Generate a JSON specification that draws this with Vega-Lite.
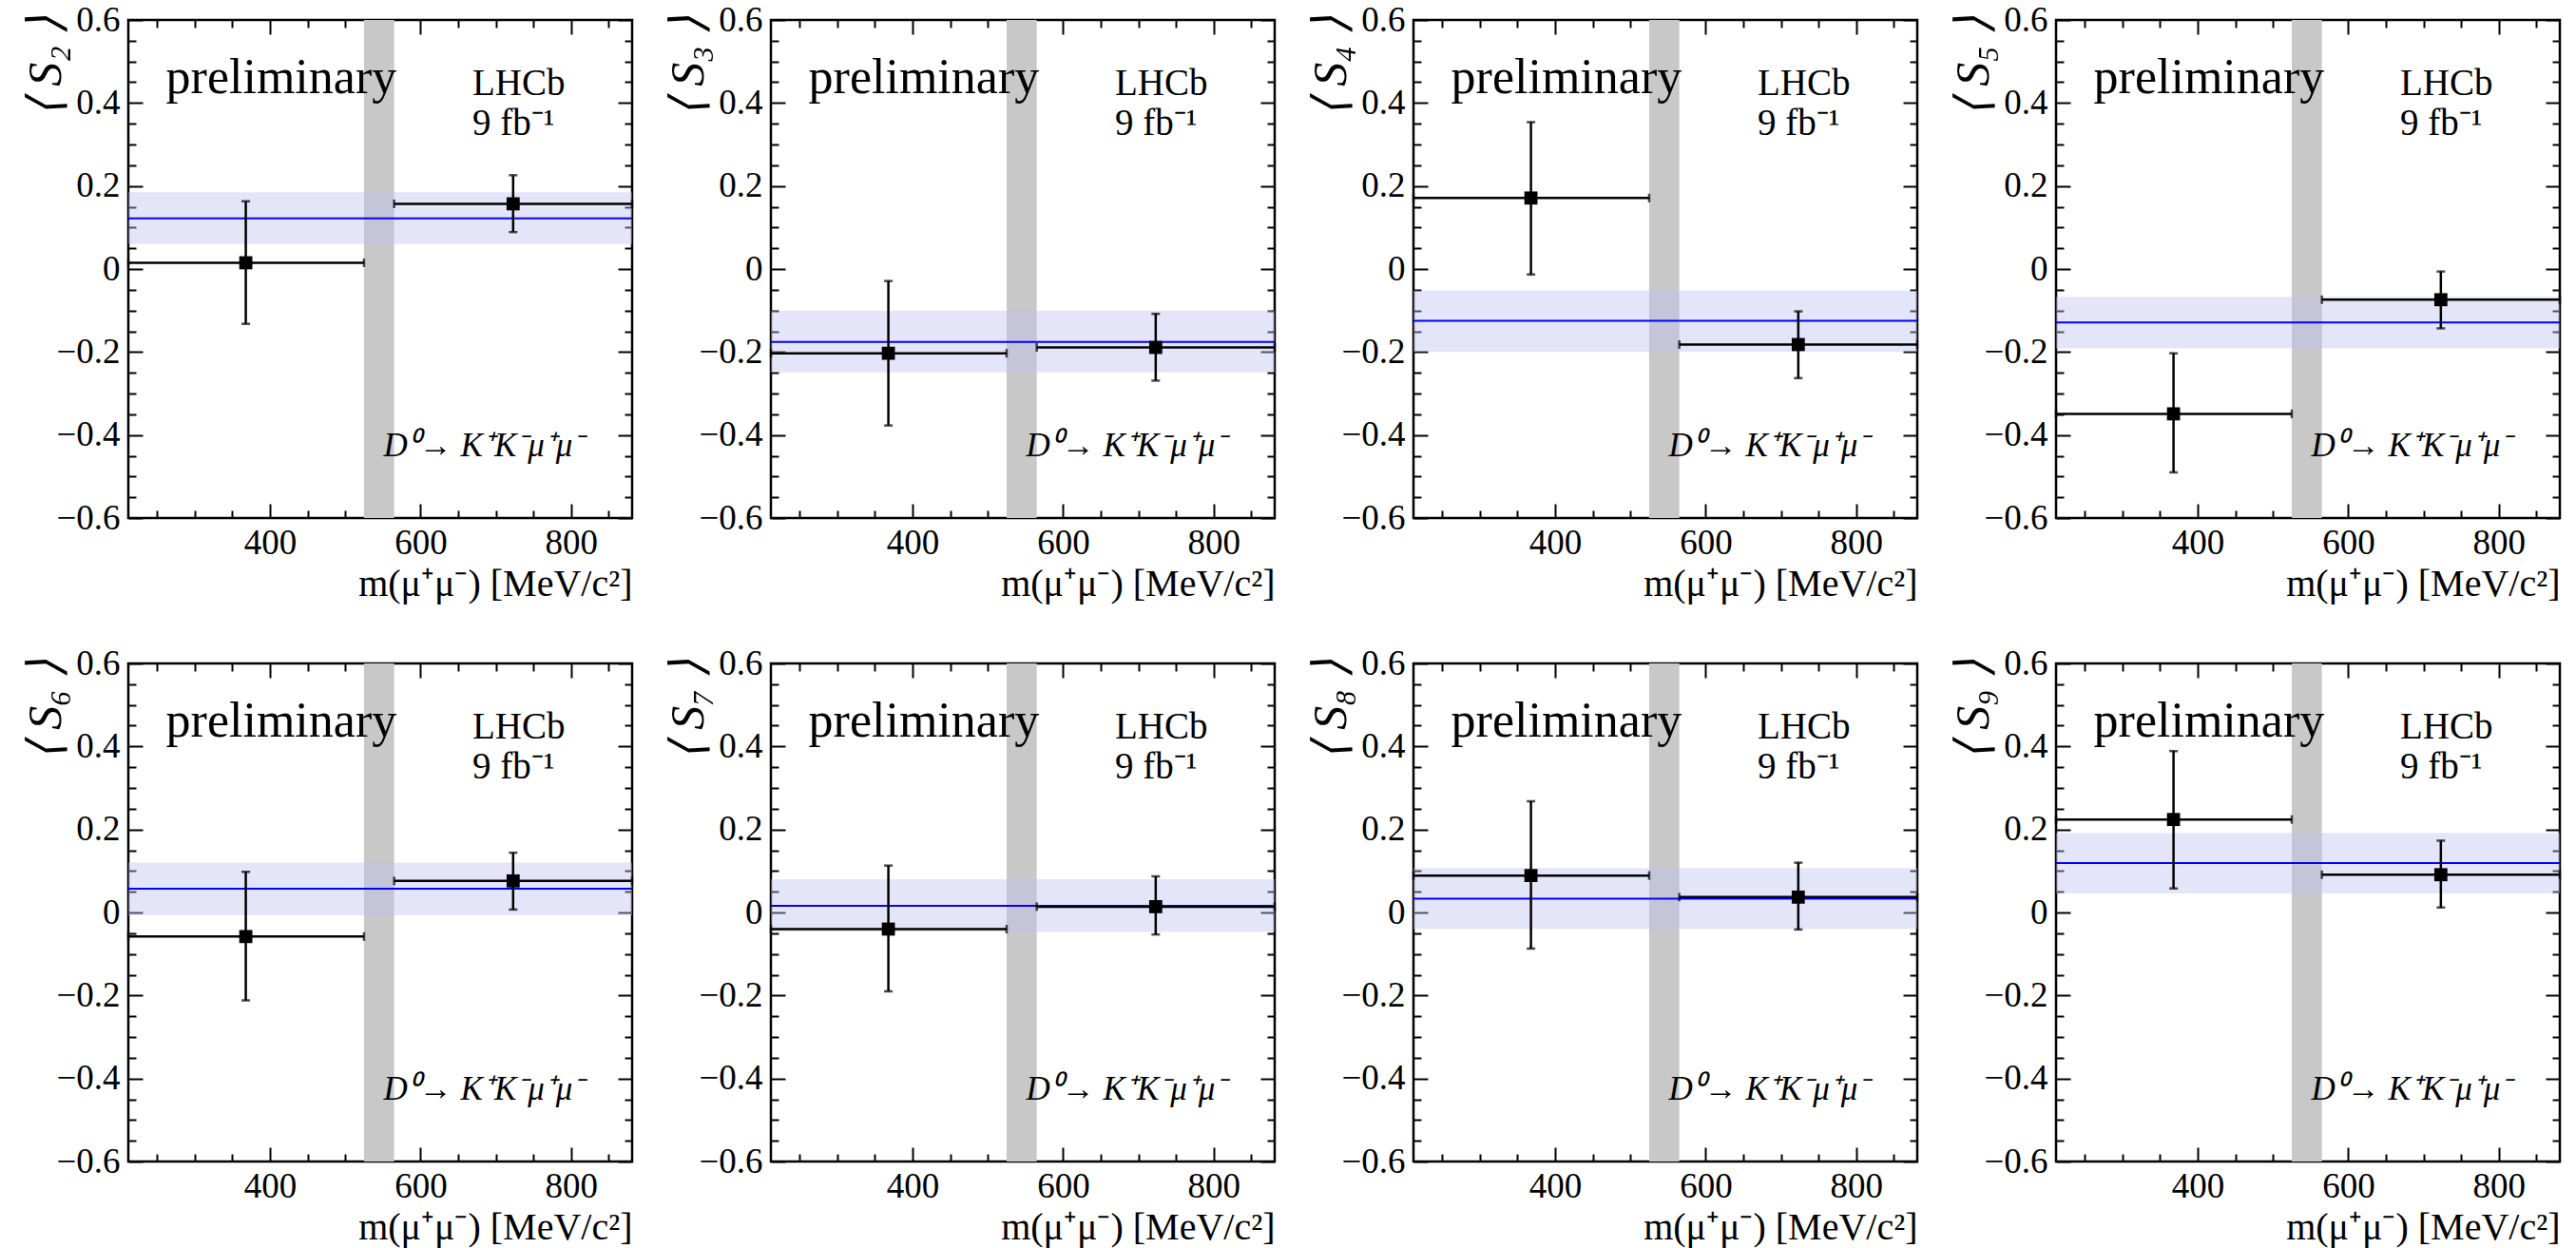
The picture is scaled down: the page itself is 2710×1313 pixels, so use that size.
{
"$schema": "https://vega.github.io/schema/vega-lite/v6.json",
"background": "white",
"padding": {"left": 21, "top": 0, "right": 19, "bottom": 0},
"datasets": {
"pts": [
{"panel":"S2","xc":368,"xlo":212,"xhi":525,"y":0.015,"ylo":-0.132,"yhi":0.163},
{"panel":"S2","xc":723,"xlo":565,"xhi":881,"y":0.157,"ylo":0.089,"yhi":0.226},
{"panel":"S3","xc":368,"xlo":212,"xhi":525,"y":-0.203,"ylo":-0.377,"yhi":-0.029},
{"panel":"S3","xc":723,"xlo":565,"xhi":881,"y":-0.189,"ylo":-0.269,"yhi":-0.108},
{"panel":"S4","xc":368,"xlo":212,"xhi":525,"y":0.171,"ylo":-0.013,"yhi":0.354},
{"panel":"S4","xc":723,"xlo":565,"xhi":881,"y":-0.182,"ylo":-0.263,"yhi":-0.102},
{"panel":"S5","xc":368,"xlo":212,"xhi":525,"y":-0.349,"ylo":-0.490,"yhi":-0.203},
{"panel":"S5","xc":723,"xlo":565,"xhi":881,"y":-0.074,"ylo":-0.143,"yhi":-0.006},
{"panel":"S6","xc":368,"xlo":212,"xhi":525,"y":-0.058,"ylo":-0.212,"yhi":0.098},
{"panel":"S6","xc":723,"xlo":565,"xhi":881,"y":0.076,"ylo":0.007,"yhi":0.144},
{"panel":"S7","xc":368,"xlo":212,"xhi":525,"y":-0.040,"ylo":-0.190,"yhi":0.113},
{"panel":"S7","xc":723,"xlo":565,"xhi":881,"y":0.014,"ylo":-0.053,"yhi":0.087},
{"panel":"S8","xc":368,"xlo":212,"xhi":525,"y":0.089,"ylo":-0.087,"yhi":0.268},
{"panel":"S8","xc":723,"xlo":565,"xhi":881,"y":0.037,"ylo":-0.041,"yhi":0.120},
{"panel":"S9","xc":368,"xlo":212,"xhi":525,"y":0.224,"ylo":0.058,"yhi":0.389},
{"panel":"S9","xc":723,"xlo":565,"xhi":881,"y":0.091,"ylo":0.012,"yhi":0.173}
],
"fits": [
{"panel":"S2","fit":0.122,"lo":0.060,"hi":0.185},
{"panel":"S3","fit":-0.176,"lo":-0.249,"hi":-0.101},
{"panel":"S4","fit":-0.125,"lo":-0.200,"hi":-0.052},
{"panel":"S5","fit":-0.129,"lo":-0.191,"hi":-0.067},
{"panel":"S6","fit":0.057,"lo":-0.007,"hi":0.120},
{"panel":"S7","fit":0.016,"lo":-0.047,"hi":0.080},
{"panel":"S8","fit":0.033,"lo":-0.040,"hi":0.107},
{"panel":"S9","fit":0.119,"lo":0.046,"hi":0.192}
],
"veto": [{"lo":525,"hi":565}],
"notes": [
{"id":"prelim","note":"preliminary"},
{"id":"lumi","note":"LHCb\n9 fb⁻¹"},
{"id":"decay","note":"D⁰→ K⁺K⁻μ⁺μ⁻"}
]
},
"columns": 4,
"spacing": {"row": 153, "column": 146},
"bounds": "flush",
"concat": [
{"width":530,"height":524,"resolve":{"axis":{"x":"independent","y":"independent"}},"layer":[
{"data":{"name":"veto"},"mark":{"type":"rect","color":"#c8c8c8"},"encoding":{"x":{"field":"lo","type":"quantitative","axis":null},"x2":{"field":"hi"}}},
{"data":{"name":"fits"},"transform":[{"filter":"datum.panel=='S2'"}],"mark":{"type":"rect","color":"#c0c0f4","opacity":0.42},"encoding":{"y":{"field":"lo","type":"quantitative","axis":null},"y2":{"field":"hi"}}},
{"data":{"name":"fits"},"transform":[{"filter":"datum.panel=='S2'"}],"mark":{"type":"rule","color":"#0000ff","strokeWidth":2},"encoding":{"y":{"field":"fit","type":"quantitative","axis":null}}},
{"data":{"name":"pts"},"transform":[{"filter":"datum.panel=='S2'"}],"mark":"rule","encoding":{"x":{"field":"xlo","type":"quantitative","scale":{"domain":[212,881],"nice":false,"zero":false},"axis":{"orient":"bottom","values":[400,600,800],"tickSize":-15,"labelPadding":23,"title":"m(μ⁺μ⁻) [MeV/c²]","titleAnchor":"end","titlePadding":5,"titleFontSize":40,"titleFont":"Liberation Serif"}},"x2":{"field":"xhi"},"y":{"field":"y","type":"quantitative","scale":{"domain":[-0.6,0.6],"nice":false,"zero":false},"axis":{"orient":"left","values":[-0.6,-0.4,-0.2,0,0.2,0.4,0.6],"format":"~g","labelExpr":"replace(datum.label,'-','−')","tickSize":-15,"labelPadding":24,"title":"⟨ S₂ ⟩","titleFontSize":50,"titleFontStyle":"italic","titleFont":"Liberation Serif","titleX":-72,"titleY":48,"titleAngle":270,"titleAlign":"center","titleBaseline":"alphabetic"}}}},
{"data":{"name":"pts"},"transform":[{"filter":"datum.panel=='S2'"}],"mark":"rule","encoding":{"x":{"field":"xc","type":"quantitative","axis":{"orient":"top","values":[400,600,800],"tickSize":-15,"labels":false,"title":null}},"y":{"field":"ylo","type":"quantitative","axis":{"orient":"right","values":[-0.6,-0.4,-0.2,0,0.2,0.4,0.6],"tickSize":-15,"labels":false,"title":null}},"y2":{"field":"yhi"}}},
{"data":{"name":"pts"},"transform":[{"filter":"datum.panel=='S2'"},{"fold":["xlo","xhi"],"as":["end","xe"]}],"mark":{"type":"tick","orient":"vertical","size":9},"encoding":{"x":{"field":"xe","type":"quantitative","axis":{"orient":"bottom","values":[250,300,350,450,500,550,650,700,750,850],"tickSize":-8,"labels":false,"title":null}},"y":{"field":"y","type":"quantitative","axis":{"orient":"left","values":[-0.55,-0.5,-0.45,-0.35,-0.3,-0.25,-0.15,-0.1,-0.05,0.05,0.1,0.15,0.25,0.3,0.35,0.45,0.5,0.55],"tickSize":-8,"labels":false,"title":null}}}},
{"data":{"name":"pts"},"transform":[{"filter":"datum.panel=='S2'"},{"fold":["ylo","yhi"],"as":["end","ye"]}],"mark":{"type":"tick","orient":"horizontal","size":9},"encoding":{"x":{"field":"xc","type":"quantitative","axis":{"orient":"top","values":[250,300,350,450,500,550,650,700,750,850],"tickSize":-8,"labels":false,"title":null}},"y":{"field":"ye","type":"quantitative","axis":{"orient":"right","values":[-0.55,-0.5,-0.45,-0.35,-0.3,-0.25,-0.15,-0.1,-0.05,0.05,0.1,0.15,0.25,0.3,0.35,0.45,0.5,0.55],"tickSize":-8,"labels":false,"title":null}}}},
{"data":{"name":"pts"},"transform":[{"filter":"datum.panel=='S2'"}],"mark":{"type":"square","size":190,"opacity":1,"color":"black"},"encoding":{"x":{"field":"xc","type":"quantitative","axis":null},"y":{"field":"y","type":"quantitative","axis":null}}},
{"data":{"name":"notes"},"transform":[{"filter":"datum.id=='prelim'"}],"mark":{"type":"text","fontSize":52,"align":"left"},"encoding":{"x":{"datum":262,"type":"quantitative","axis":null},"y":{"datum":0.424,"type":"quantitative","axis":null},"text":{"field":"note"}}},
{"data":{"name":"notes"},"transform":[{"filter":"datum.id=='lumi'"}],"mark":{"type":"text","fontSize":39,"align":"left","lineBreak":"\n","lineHeight":42},"encoding":{"x":{"datum":669,"type":"quantitative","axis":null},"y":{"datum":0.42,"type":"quantitative","axis":null},"text":{"field":"note"}}},
{"data":{"name":"notes"},"transform":[{"filter":"datum.id=='decay'"}],"mark":{"type":"text","fontSize":35,"fontStyle":"italic","align":"left"},"encoding":{"x":{"datum":551,"type":"quantitative","axis":null},"y":{"datum":-0.452,"type":"quantitative","axis":null},"text":{"field":"note"}}}
]},
{"width":530,"height":524,"resolve":{"axis":{"x":"independent","y":"independent"}},"layer":[
{"data":{"name":"veto"},"mark":{"type":"rect","color":"#c8c8c8"},"encoding":{"x":{"field":"lo","type":"quantitative","axis":null},"x2":{"field":"hi"}}},
{"data":{"name":"fits"},"transform":[{"filter":"datum.panel=='S3'"}],"mark":{"type":"rect","color":"#c0c0f4","opacity":0.42},"encoding":{"y":{"field":"lo","type":"quantitative","axis":null},"y2":{"field":"hi"}}},
{"data":{"name":"fits"},"transform":[{"filter":"datum.panel=='S3'"}],"mark":{"type":"rule","color":"#0000ff","strokeWidth":2},"encoding":{"y":{"field":"fit","type":"quantitative","axis":null}}},
{"data":{"name":"pts"},"transform":[{"filter":"datum.panel=='S3'"}],"mark":"rule","encoding":{"x":{"field":"xlo","type":"quantitative","scale":{"domain":[212,881],"nice":false,"zero":false},"axis":{"orient":"bottom","values":[400,600,800],"tickSize":-15,"labelPadding":23,"title":"m(μ⁺μ⁻) [MeV/c²]","titleAnchor":"end","titlePadding":5,"titleFontSize":40,"titleFont":"Liberation Serif"}},"x2":{"field":"xhi"},"y":{"field":"y","type":"quantitative","scale":{"domain":[-0.6,0.6],"nice":false,"zero":false},"axis":{"orient":"left","values":[-0.6,-0.4,-0.2,0,0.2,0.4,0.6],"format":"~g","labelExpr":"replace(datum.label,'-','−')","tickSize":-15,"labelPadding":24,"title":"⟨ S₃ ⟩","titleFontSize":50,"titleFontStyle":"italic","titleFont":"Liberation Serif","titleX":-72,"titleY":48,"titleAngle":270,"titleAlign":"center","titleBaseline":"alphabetic"}}}},
{"data":{"name":"pts"},"transform":[{"filter":"datum.panel=='S3'"}],"mark":"rule","encoding":{"x":{"field":"xc","type":"quantitative","axis":{"orient":"top","values":[400,600,800],"tickSize":-15,"labels":false,"title":null}},"y":{"field":"ylo","type":"quantitative","axis":{"orient":"right","values":[-0.6,-0.4,-0.2,0,0.2,0.4,0.6],"tickSize":-15,"labels":false,"title":null}},"y2":{"field":"yhi"}}},
{"data":{"name":"pts"},"transform":[{"filter":"datum.panel=='S3'"},{"fold":["xlo","xhi"],"as":["end","xe"]}],"mark":{"type":"tick","orient":"vertical","size":9},"encoding":{"x":{"field":"xe","type":"quantitative","axis":{"orient":"bottom","values":[250,300,350,450,500,550,650,700,750,850],"tickSize":-8,"labels":false,"title":null}},"y":{"field":"y","type":"quantitative","axis":{"orient":"left","values":[-0.55,-0.5,-0.45,-0.35,-0.3,-0.25,-0.15,-0.1,-0.05,0.05,0.1,0.15,0.25,0.3,0.35,0.45,0.5,0.55],"tickSize":-8,"labels":false,"title":null}}}},
{"data":{"name":"pts"},"transform":[{"filter":"datum.panel=='S3'"},{"fold":["ylo","yhi"],"as":["end","ye"]}],"mark":{"type":"tick","orient":"horizontal","size":9},"encoding":{"x":{"field":"xc","type":"quantitative","axis":{"orient":"top","values":[250,300,350,450,500,550,650,700,750,850],"tickSize":-8,"labels":false,"title":null}},"y":{"field":"ye","type":"quantitative","axis":{"orient":"right","values":[-0.55,-0.5,-0.45,-0.35,-0.3,-0.25,-0.15,-0.1,-0.05,0.05,0.1,0.15,0.25,0.3,0.35,0.45,0.5,0.55],"tickSize":-8,"labels":false,"title":null}}}},
{"data":{"name":"pts"},"transform":[{"filter":"datum.panel=='S3'"}],"mark":{"type":"square","size":190,"opacity":1,"color":"black"},"encoding":{"x":{"field":"xc","type":"quantitative","axis":null},"y":{"field":"y","type":"quantitative","axis":null}}},
{"data":{"name":"notes"},"transform":[{"filter":"datum.id=='prelim'"}],"mark":{"type":"text","fontSize":52,"align":"left"},"encoding":{"x":{"datum":262,"type":"quantitative","axis":null},"y":{"datum":0.424,"type":"quantitative","axis":null},"text":{"field":"note"}}},
{"data":{"name":"notes"},"transform":[{"filter":"datum.id=='lumi'"}],"mark":{"type":"text","fontSize":39,"align":"left","lineBreak":"\n","lineHeight":42},"encoding":{"x":{"datum":669,"type":"quantitative","axis":null},"y":{"datum":0.42,"type":"quantitative","axis":null},"text":{"field":"note"}}},
{"data":{"name":"notes"},"transform":[{"filter":"datum.id=='decay'"}],"mark":{"type":"text","fontSize":35,"fontStyle":"italic","align":"left"},"encoding":{"x":{"datum":551,"type":"quantitative","axis":null},"y":{"datum":-0.452,"type":"quantitative","axis":null},"text":{"field":"note"}}}
]},
{"width":530,"height":524,"resolve":{"axis":{"x":"independent","y":"independent"}},"layer":[
{"data":{"name":"veto"},"mark":{"type":"rect","color":"#c8c8c8"},"encoding":{"x":{"field":"lo","type":"quantitative","axis":null},"x2":{"field":"hi"}}},
{"data":{"name":"fits"},"transform":[{"filter":"datum.panel=='S4'"}],"mark":{"type":"rect","color":"#c0c0f4","opacity":0.42},"encoding":{"y":{"field":"lo","type":"quantitative","axis":null},"y2":{"field":"hi"}}},
{"data":{"name":"fits"},"transform":[{"filter":"datum.panel=='S4'"}],"mark":{"type":"rule","color":"#0000ff","strokeWidth":2},"encoding":{"y":{"field":"fit","type":"quantitative","axis":null}}},
{"data":{"name":"pts"},"transform":[{"filter":"datum.panel=='S4'"}],"mark":"rule","encoding":{"x":{"field":"xlo","type":"quantitative","scale":{"domain":[212,881],"nice":false,"zero":false},"axis":{"orient":"bottom","values":[400,600,800],"tickSize":-15,"labelPadding":23,"title":"m(μ⁺μ⁻) [MeV/c²]","titleAnchor":"end","titlePadding":5,"titleFontSize":40,"titleFont":"Liberation Serif"}},"x2":{"field":"xhi"},"y":{"field":"y","type":"quantitative","scale":{"domain":[-0.6,0.6],"nice":false,"zero":false},"axis":{"orient":"left","values":[-0.6,-0.4,-0.2,0,0.2,0.4,0.6],"format":"~g","labelExpr":"replace(datum.label,'-','−')","tickSize":-15,"labelPadding":24,"title":"⟨ S₄ ⟩","titleFontSize":50,"titleFontStyle":"italic","titleFont":"Liberation Serif","titleX":-72,"titleY":48,"titleAngle":270,"titleAlign":"center","titleBaseline":"alphabetic"}}}},
{"data":{"name":"pts"},"transform":[{"filter":"datum.panel=='S4'"}],"mark":"rule","encoding":{"x":{"field":"xc","type":"quantitative","axis":{"orient":"top","values":[400,600,800],"tickSize":-15,"labels":false,"title":null}},"y":{"field":"ylo","type":"quantitative","axis":{"orient":"right","values":[-0.6,-0.4,-0.2,0,0.2,0.4,0.6],"tickSize":-15,"labels":false,"title":null}},"y2":{"field":"yhi"}}},
{"data":{"name":"pts"},"transform":[{"filter":"datum.panel=='S4'"},{"fold":["xlo","xhi"],"as":["end","xe"]}],"mark":{"type":"tick","orient":"vertical","size":9},"encoding":{"x":{"field":"xe","type":"quantitative","axis":{"orient":"bottom","values":[250,300,350,450,500,550,650,700,750,850],"tickSize":-8,"labels":false,"title":null}},"y":{"field":"y","type":"quantitative","axis":{"orient":"left","values":[-0.55,-0.5,-0.45,-0.35,-0.3,-0.25,-0.15,-0.1,-0.05,0.05,0.1,0.15,0.25,0.3,0.35,0.45,0.5,0.55],"tickSize":-8,"labels":false,"title":null}}}},
{"data":{"name":"pts"},"transform":[{"filter":"datum.panel=='S4'"},{"fold":["ylo","yhi"],"as":["end","ye"]}],"mark":{"type":"tick","orient":"horizontal","size":9},"encoding":{"x":{"field":"xc","type":"quantitative","axis":{"orient":"top","values":[250,300,350,450,500,550,650,700,750,850],"tickSize":-8,"labels":false,"title":null}},"y":{"field":"ye","type":"quantitative","axis":{"orient":"right","values":[-0.55,-0.5,-0.45,-0.35,-0.3,-0.25,-0.15,-0.1,-0.05,0.05,0.1,0.15,0.25,0.3,0.35,0.45,0.5,0.55],"tickSize":-8,"labels":false,"title":null}}}},
{"data":{"name":"pts"},"transform":[{"filter":"datum.panel=='S4'"}],"mark":{"type":"square","size":190,"opacity":1,"color":"black"},"encoding":{"x":{"field":"xc","type":"quantitative","axis":null},"y":{"field":"y","type":"quantitative","axis":null}}},
{"data":{"name":"notes"},"transform":[{"filter":"datum.id=='prelim'"}],"mark":{"type":"text","fontSize":52,"align":"left"},"encoding":{"x":{"datum":262,"type":"quantitative","axis":null},"y":{"datum":0.424,"type":"quantitative","axis":null},"text":{"field":"note"}}},
{"data":{"name":"notes"},"transform":[{"filter":"datum.id=='lumi'"}],"mark":{"type":"text","fontSize":39,"align":"left","lineBreak":"\n","lineHeight":42},"encoding":{"x":{"datum":669,"type":"quantitative","axis":null},"y":{"datum":0.42,"type":"quantitative","axis":null},"text":{"field":"note"}}},
{"data":{"name":"notes"},"transform":[{"filter":"datum.id=='decay'"}],"mark":{"type":"text","fontSize":35,"fontStyle":"italic","align":"left"},"encoding":{"x":{"datum":551,"type":"quantitative","axis":null},"y":{"datum":-0.452,"type":"quantitative","axis":null},"text":{"field":"note"}}}
]},
{"width":530,"height":524,"resolve":{"axis":{"x":"independent","y":"independent"}},"layer":[
{"data":{"name":"veto"},"mark":{"type":"rect","color":"#c8c8c8"},"encoding":{"x":{"field":"lo","type":"quantitative","axis":null},"x2":{"field":"hi"}}},
{"data":{"name":"fits"},"transform":[{"filter":"datum.panel=='S5'"}],"mark":{"type":"rect","color":"#c0c0f4","opacity":0.42},"encoding":{"y":{"field":"lo","type":"quantitative","axis":null},"y2":{"field":"hi"}}},
{"data":{"name":"fits"},"transform":[{"filter":"datum.panel=='S5'"}],"mark":{"type":"rule","color":"#0000ff","strokeWidth":2},"encoding":{"y":{"field":"fit","type":"quantitative","axis":null}}},
{"data":{"name":"pts"},"transform":[{"filter":"datum.panel=='S5'"}],"mark":"rule","encoding":{"x":{"field":"xlo","type":"quantitative","scale":{"domain":[212,881],"nice":false,"zero":false},"axis":{"orient":"bottom","values":[400,600,800],"tickSize":-15,"labelPadding":23,"title":"m(μ⁺μ⁻) [MeV/c²]","titleAnchor":"end","titlePadding":5,"titleFontSize":40,"titleFont":"Liberation Serif"}},"x2":{"field":"xhi"},"y":{"field":"y","type":"quantitative","scale":{"domain":[-0.6,0.6],"nice":false,"zero":false},"axis":{"orient":"left","values":[-0.6,-0.4,-0.2,0,0.2,0.4,0.6],"format":"~g","labelExpr":"replace(datum.label,'-','−')","tickSize":-15,"labelPadding":24,"title":"⟨ S₅ ⟩","titleFontSize":50,"titleFontStyle":"italic","titleFont":"Liberation Serif","titleX":-72,"titleY":48,"titleAngle":270,"titleAlign":"center","titleBaseline":"alphabetic"}}}},
{"data":{"name":"pts"},"transform":[{"filter":"datum.panel=='S5'"}],"mark":"rule","encoding":{"x":{"field":"xc","type":"quantitative","axis":{"orient":"top","values":[400,600,800],"tickSize":-15,"labels":false,"title":null}},"y":{"field":"ylo","type":"quantitative","axis":{"orient":"right","values":[-0.6,-0.4,-0.2,0,0.2,0.4,0.6],"tickSize":-15,"labels":false,"title":null}},"y2":{"field":"yhi"}}},
{"data":{"name":"pts"},"transform":[{"filter":"datum.panel=='S5'"},{"fold":["xlo","xhi"],"as":["end","xe"]}],"mark":{"type":"tick","orient":"vertical","size":9},"encoding":{"x":{"field":"xe","type":"quantitative","axis":{"orient":"bottom","values":[250,300,350,450,500,550,650,700,750,850],"tickSize":-8,"labels":false,"title":null}},"y":{"field":"y","type":"quantitative","axis":{"orient":"left","values":[-0.55,-0.5,-0.45,-0.35,-0.3,-0.25,-0.15,-0.1,-0.05,0.05,0.1,0.15,0.25,0.3,0.35,0.45,0.5,0.55],"tickSize":-8,"labels":false,"title":null}}}},
{"data":{"name":"pts"},"transform":[{"filter":"datum.panel=='S5'"},{"fold":["ylo","yhi"],"as":["end","ye"]}],"mark":{"type":"tick","orient":"horizontal","size":9},"encoding":{"x":{"field":"xc","type":"quantitative","axis":{"orient":"top","values":[250,300,350,450,500,550,650,700,750,850],"tickSize":-8,"labels":false,"title":null}},"y":{"field":"ye","type":"quantitative","axis":{"orient":"right","values":[-0.55,-0.5,-0.45,-0.35,-0.3,-0.25,-0.15,-0.1,-0.05,0.05,0.1,0.15,0.25,0.3,0.35,0.45,0.5,0.55],"tickSize":-8,"labels":false,"title":null}}}},
{"data":{"name":"pts"},"transform":[{"filter":"datum.panel=='S5'"}],"mark":{"type":"square","size":190,"opacity":1,"color":"black"},"encoding":{"x":{"field":"xc","type":"quantitative","axis":null},"y":{"field":"y","type":"quantitative","axis":null}}},
{"data":{"name":"notes"},"transform":[{"filter":"datum.id=='prelim'"}],"mark":{"type":"text","fontSize":52,"align":"left"},"encoding":{"x":{"datum":262,"type":"quantitative","axis":null},"y":{"datum":0.424,"type":"quantitative","axis":null},"text":{"field":"note"}}},
{"data":{"name":"notes"},"transform":[{"filter":"datum.id=='lumi'"}],"mark":{"type":"text","fontSize":39,"align":"left","lineBreak":"\n","lineHeight":42},"encoding":{"x":{"datum":669,"type":"quantitative","axis":null},"y":{"datum":0.42,"type":"quantitative","axis":null},"text":{"field":"note"}}},
{"data":{"name":"notes"},"transform":[{"filter":"datum.id=='decay'"}],"mark":{"type":"text","fontSize":35,"fontStyle":"italic","align":"left"},"encoding":{"x":{"datum":551,"type":"quantitative","axis":null},"y":{"datum":-0.452,"type":"quantitative","axis":null},"text":{"field":"note"}}}
]},
{"width":530,"height":524,"resolve":{"axis":{"x":"independent","y":"independent"}},"layer":[
{"data":{"name":"veto"},"mark":{"type":"rect","color":"#c8c8c8"},"encoding":{"x":{"field":"lo","type":"quantitative","axis":null},"x2":{"field":"hi"}}},
{"data":{"name":"fits"},"transform":[{"filter":"datum.panel=='S6'"}],"mark":{"type":"rect","color":"#c0c0f4","opacity":0.42},"encoding":{"y":{"field":"lo","type":"quantitative","axis":null},"y2":{"field":"hi"}}},
{"data":{"name":"fits"},"transform":[{"filter":"datum.panel=='S6'"}],"mark":{"type":"rule","color":"#0000ff","strokeWidth":2},"encoding":{"y":{"field":"fit","type":"quantitative","axis":null}}},
{"data":{"name":"pts"},"transform":[{"filter":"datum.panel=='S6'"}],"mark":"rule","encoding":{"x":{"field":"xlo","type":"quantitative","scale":{"domain":[212,881],"nice":false,"zero":false},"axis":{"orient":"bottom","values":[400,600,800],"tickSize":-15,"labelPadding":23,"title":"m(μ⁺μ⁻) [MeV/c²]","titleAnchor":"end","titlePadding":5,"titleFontSize":40,"titleFont":"Liberation Serif"}},"x2":{"field":"xhi"},"y":{"field":"y","type":"quantitative","scale":{"domain":[-0.6,0.6],"nice":false,"zero":false},"axis":{"orient":"left","values":[-0.6,-0.4,-0.2,0,0.2,0.4,0.6],"format":"~g","labelExpr":"replace(datum.label,'-','−')","tickSize":-15,"labelPadding":24,"title":"⟨ S₆ ⟩","titleFontSize":50,"titleFontStyle":"italic","titleFont":"Liberation Serif","titleX":-72,"titleY":48,"titleAngle":270,"titleAlign":"center","titleBaseline":"alphabetic"}}}},
{"data":{"name":"pts"},"transform":[{"filter":"datum.panel=='S6'"}],"mark":"rule","encoding":{"x":{"field":"xc","type":"quantitative","axis":{"orient":"top","values":[400,600,800],"tickSize":-15,"labels":false,"title":null}},"y":{"field":"ylo","type":"quantitative","axis":{"orient":"right","values":[-0.6,-0.4,-0.2,0,0.2,0.4,0.6],"tickSize":-15,"labels":false,"title":null}},"y2":{"field":"yhi"}}},
{"data":{"name":"pts"},"transform":[{"filter":"datum.panel=='S6'"},{"fold":["xlo","xhi"],"as":["end","xe"]}],"mark":{"type":"tick","orient":"vertical","size":9},"encoding":{"x":{"field":"xe","type":"quantitative","axis":{"orient":"bottom","values":[250,300,350,450,500,550,650,700,750,850],"tickSize":-8,"labels":false,"title":null}},"y":{"field":"y","type":"quantitative","axis":{"orient":"left","values":[-0.55,-0.5,-0.45,-0.35,-0.3,-0.25,-0.15,-0.1,-0.05,0.05,0.1,0.15,0.25,0.3,0.35,0.45,0.5,0.55],"tickSize":-8,"labels":false,"title":null}}}},
{"data":{"name":"pts"},"transform":[{"filter":"datum.panel=='S6'"},{"fold":["ylo","yhi"],"as":["end","ye"]}],"mark":{"type":"tick","orient":"horizontal","size":9},"encoding":{"x":{"field":"xc","type":"quantitative","axis":{"orient":"top","values":[250,300,350,450,500,550,650,700,750,850],"tickSize":-8,"labels":false,"title":null}},"y":{"field":"ye","type":"quantitative","axis":{"orient":"right","values":[-0.55,-0.5,-0.45,-0.35,-0.3,-0.25,-0.15,-0.1,-0.05,0.05,0.1,0.15,0.25,0.3,0.35,0.45,0.5,0.55],"tickSize":-8,"labels":false,"title":null}}}},
{"data":{"name":"pts"},"transform":[{"filter":"datum.panel=='S6'"}],"mark":{"type":"square","size":190,"opacity":1,"color":"black"},"encoding":{"x":{"field":"xc","type":"quantitative","axis":null},"y":{"field":"y","type":"quantitative","axis":null}}},
{"data":{"name":"notes"},"transform":[{"filter":"datum.id=='prelim'"}],"mark":{"type":"text","fontSize":52,"align":"left"},"encoding":{"x":{"datum":262,"type":"quantitative","axis":null},"y":{"datum":0.424,"type":"quantitative","axis":null},"text":{"field":"note"}}},
{"data":{"name":"notes"},"transform":[{"filter":"datum.id=='lumi'"}],"mark":{"type":"text","fontSize":39,"align":"left","lineBreak":"\n","lineHeight":42},"encoding":{"x":{"datum":669,"type":"quantitative","axis":null},"y":{"datum":0.42,"type":"quantitative","axis":null},"text":{"field":"note"}}},
{"data":{"name":"notes"},"transform":[{"filter":"datum.id=='decay'"}],"mark":{"type":"text","fontSize":35,"fontStyle":"italic","align":"left"},"encoding":{"x":{"datum":551,"type":"quantitative","axis":null},"y":{"datum":-0.452,"type":"quantitative","axis":null},"text":{"field":"note"}}}
]},
{"width":530,"height":524,"resolve":{"axis":{"x":"independent","y":"independent"}},"layer":[
{"data":{"name":"veto"},"mark":{"type":"rect","color":"#c8c8c8"},"encoding":{"x":{"field":"lo","type":"quantitative","axis":null},"x2":{"field":"hi"}}},
{"data":{"name":"fits"},"transform":[{"filter":"datum.panel=='S7'"}],"mark":{"type":"rect","color":"#c0c0f4","opacity":0.42},"encoding":{"y":{"field":"lo","type":"quantitative","axis":null},"y2":{"field":"hi"}}},
{"data":{"name":"fits"},"transform":[{"filter":"datum.panel=='S7'"}],"mark":{"type":"rule","color":"#0000ff","strokeWidth":2},"encoding":{"y":{"field":"fit","type":"quantitative","axis":null}}},
{"data":{"name":"pts"},"transform":[{"filter":"datum.panel=='S7'"}],"mark":"rule","encoding":{"x":{"field":"xlo","type":"quantitative","scale":{"domain":[212,881],"nice":false,"zero":false},"axis":{"orient":"bottom","values":[400,600,800],"tickSize":-15,"labelPadding":23,"title":"m(μ⁺μ⁻) [MeV/c²]","titleAnchor":"end","titlePadding":5,"titleFontSize":40,"titleFont":"Liberation Serif"}},"x2":{"field":"xhi"},"y":{"field":"y","type":"quantitative","scale":{"domain":[-0.6,0.6],"nice":false,"zero":false},"axis":{"orient":"left","values":[-0.6,-0.4,-0.2,0,0.2,0.4,0.6],"format":"~g","labelExpr":"replace(datum.label,'-','−')","tickSize":-15,"labelPadding":24,"title":"⟨ S₇ ⟩","titleFontSize":50,"titleFontStyle":"italic","titleFont":"Liberation Serif","titleX":-72,"titleY":48,"titleAngle":270,"titleAlign":"center","titleBaseline":"alphabetic"}}}},
{"data":{"name":"pts"},"transform":[{"filter":"datum.panel=='S7'"}],"mark":"rule","encoding":{"x":{"field":"xc","type":"quantitative","axis":{"orient":"top","values":[400,600,800],"tickSize":-15,"labels":false,"title":null}},"y":{"field":"ylo","type":"quantitative","axis":{"orient":"right","values":[-0.6,-0.4,-0.2,0,0.2,0.4,0.6],"tickSize":-15,"labels":false,"title":null}},"y2":{"field":"yhi"}}},
{"data":{"name":"pts"},"transform":[{"filter":"datum.panel=='S7'"},{"fold":["xlo","xhi"],"as":["end","xe"]}],"mark":{"type":"tick","orient":"vertical","size":9},"encoding":{"x":{"field":"xe","type":"quantitative","axis":{"orient":"bottom","values":[250,300,350,450,500,550,650,700,750,850],"tickSize":-8,"labels":false,"title":null}},"y":{"field":"y","type":"quantitative","axis":{"orient":"left","values":[-0.55,-0.5,-0.45,-0.35,-0.3,-0.25,-0.15,-0.1,-0.05,0.05,0.1,0.15,0.25,0.3,0.35,0.45,0.5,0.55],"tickSize":-8,"labels":false,"title":null}}}},
{"data":{"name":"pts"},"transform":[{"filter":"datum.panel=='S7'"},{"fold":["ylo","yhi"],"as":["end","ye"]}],"mark":{"type":"tick","orient":"horizontal","size":9},"encoding":{"x":{"field":"xc","type":"quantitative","axis":{"orient":"top","values":[250,300,350,450,500,550,650,700,750,850],"tickSize":-8,"labels":false,"title":null}},"y":{"field":"ye","type":"quantitative","axis":{"orient":"right","values":[-0.55,-0.5,-0.45,-0.35,-0.3,-0.25,-0.15,-0.1,-0.05,0.05,0.1,0.15,0.25,0.3,0.35,0.45,0.5,0.55],"tickSize":-8,"labels":false,"title":null}}}},
{"data":{"name":"pts"},"transform":[{"filter":"datum.panel=='S7'"}],"mark":{"type":"square","size":190,"opacity":1,"color":"black"},"encoding":{"x":{"field":"xc","type":"quantitative","axis":null},"y":{"field":"y","type":"quantitative","axis":null}}},
{"data":{"name":"notes"},"transform":[{"filter":"datum.id=='prelim'"}],"mark":{"type":"text","fontSize":52,"align":"left"},"encoding":{"x":{"datum":262,"type":"quantitative","axis":null},"y":{"datum":0.424,"type":"quantitative","axis":null},"text":{"field":"note"}}},
{"data":{"name":"notes"},"transform":[{"filter":"datum.id=='lumi'"}],"mark":{"type":"text","fontSize":39,"align":"left","lineBreak":"\n","lineHeight":42},"encoding":{"x":{"datum":669,"type":"quantitative","axis":null},"y":{"datum":0.42,"type":"quantitative","axis":null},"text":{"field":"note"}}},
{"data":{"name":"notes"},"transform":[{"filter":"datum.id=='decay'"}],"mark":{"type":"text","fontSize":35,"fontStyle":"italic","align":"left"},"encoding":{"x":{"datum":551,"type":"quantitative","axis":null},"y":{"datum":-0.452,"type":"quantitative","axis":null},"text":{"field":"note"}}}
]},
{"width":530,"height":524,"resolve":{"axis":{"x":"independent","y":"independent"}},"layer":[
{"data":{"name":"veto"},"mark":{"type":"rect","color":"#c8c8c8"},"encoding":{"x":{"field":"lo","type":"quantitative","axis":null},"x2":{"field":"hi"}}},
{"data":{"name":"fits"},"transform":[{"filter":"datum.panel=='S8'"}],"mark":{"type":"rect","color":"#c0c0f4","opacity":0.42},"encoding":{"y":{"field":"lo","type":"quantitative","axis":null},"y2":{"field":"hi"}}},
{"data":{"name":"fits"},"transform":[{"filter":"datum.panel=='S8'"}],"mark":{"type":"rule","color":"#0000ff","strokeWidth":2},"encoding":{"y":{"field":"fit","type":"quantitative","axis":null}}},
{"data":{"name":"pts"},"transform":[{"filter":"datum.panel=='S8'"}],"mark":"rule","encoding":{"x":{"field":"xlo","type":"quantitative","scale":{"domain":[212,881],"nice":false,"zero":false},"axis":{"orient":"bottom","values":[400,600,800],"tickSize":-15,"labelPadding":23,"title":"m(μ⁺μ⁻) [MeV/c²]","titleAnchor":"end","titlePadding":5,"titleFontSize":40,"titleFont":"Liberation Serif"}},"x2":{"field":"xhi"},"y":{"field":"y","type":"quantitative","scale":{"domain":[-0.6,0.6],"nice":false,"zero":false},"axis":{"orient":"left","values":[-0.6,-0.4,-0.2,0,0.2,0.4,0.6],"format":"~g","labelExpr":"replace(datum.label,'-','−')","tickSize":-15,"labelPadding":24,"title":"⟨ S₈ ⟩","titleFontSize":50,"titleFontStyle":"italic","titleFont":"Liberation Serif","titleX":-72,"titleY":48,"titleAngle":270,"titleAlign":"center","titleBaseline":"alphabetic"}}}},
{"data":{"name":"pts"},"transform":[{"filter":"datum.panel=='S8'"}],"mark":"rule","encoding":{"x":{"field":"xc","type":"quantitative","axis":{"orient":"top","values":[400,600,800],"tickSize":-15,"labels":false,"title":null}},"y":{"field":"ylo","type":"quantitative","axis":{"orient":"right","values":[-0.6,-0.4,-0.2,0,0.2,0.4,0.6],"tickSize":-15,"labels":false,"title":null}},"y2":{"field":"yhi"}}},
{"data":{"name":"pts"},"transform":[{"filter":"datum.panel=='S8'"},{"fold":["xlo","xhi"],"as":["end","xe"]}],"mark":{"type":"tick","orient":"vertical","size":9},"encoding":{"x":{"field":"xe","type":"quantitative","axis":{"orient":"bottom","values":[250,300,350,450,500,550,650,700,750,850],"tickSize":-8,"labels":false,"title":null}},"y":{"field":"y","type":"quantitative","axis":{"orient":"left","values":[-0.55,-0.5,-0.45,-0.35,-0.3,-0.25,-0.15,-0.1,-0.05,0.05,0.1,0.15,0.25,0.3,0.35,0.45,0.5,0.55],"tickSize":-8,"labels":false,"title":null}}}},
{"data":{"name":"pts"},"transform":[{"filter":"datum.panel=='S8'"},{"fold":["ylo","yhi"],"as":["end","ye"]}],"mark":{"type":"tick","orient":"horizontal","size":9},"encoding":{"x":{"field":"xc","type":"quantitative","axis":{"orient":"top","values":[250,300,350,450,500,550,650,700,750,850],"tickSize":-8,"labels":false,"title":null}},"y":{"field":"ye","type":"quantitative","axis":{"orient":"right","values":[-0.55,-0.5,-0.45,-0.35,-0.3,-0.25,-0.15,-0.1,-0.05,0.05,0.1,0.15,0.25,0.3,0.35,0.45,0.5,0.55],"tickSize":-8,"labels":false,"title":null}}}},
{"data":{"name":"pts"},"transform":[{"filter":"datum.panel=='S8'"}],"mark":{"type":"square","size":190,"opacity":1,"color":"black"},"encoding":{"x":{"field":"xc","type":"quantitative","axis":null},"y":{"field":"y","type":"quantitative","axis":null}}},
{"data":{"name":"notes"},"transform":[{"filter":"datum.id=='prelim'"}],"mark":{"type":"text","fontSize":52,"align":"left"},"encoding":{"x":{"datum":262,"type":"quantitative","axis":null},"y":{"datum":0.424,"type":"quantitative","axis":null},"text":{"field":"note"}}},
{"data":{"name":"notes"},"transform":[{"filter":"datum.id=='lumi'"}],"mark":{"type":"text","fontSize":39,"align":"left","lineBreak":"\n","lineHeight":42},"encoding":{"x":{"datum":669,"type":"quantitative","axis":null},"y":{"datum":0.42,"type":"quantitative","axis":null},"text":{"field":"note"}}},
{"data":{"name":"notes"},"transform":[{"filter":"datum.id=='decay'"}],"mark":{"type":"text","fontSize":35,"fontStyle":"italic","align":"left"},"encoding":{"x":{"datum":551,"type":"quantitative","axis":null},"y":{"datum":-0.452,"type":"quantitative","axis":null},"text":{"field":"note"}}}
]},
{"width":530,"height":524,"resolve":{"axis":{"x":"independent","y":"independent"}},"layer":[
{"data":{"name":"veto"},"mark":{"type":"rect","color":"#c8c8c8"},"encoding":{"x":{"field":"lo","type":"quantitative","axis":null},"x2":{"field":"hi"}}},
{"data":{"name":"fits"},"transform":[{"filter":"datum.panel=='S9'"}],"mark":{"type":"rect","color":"#c0c0f4","opacity":0.42},"encoding":{"y":{"field":"lo","type":"quantitative","axis":null},"y2":{"field":"hi"}}},
{"data":{"name":"fits"},"transform":[{"filter":"datum.panel=='S9'"}],"mark":{"type":"rule","color":"#0000ff","strokeWidth":2},"encoding":{"y":{"field":"fit","type":"quantitative","axis":null}}},
{"data":{"name":"pts"},"transform":[{"filter":"datum.panel=='S9'"}],"mark":"rule","encoding":{"x":{"field":"xlo","type":"quantitative","scale":{"domain":[212,881],"nice":false,"zero":false},"axis":{"orient":"bottom","values":[400,600,800],"tickSize":-15,"labelPadding":23,"title":"m(μ⁺μ⁻) [MeV/c²]","titleAnchor":"end","titlePadding":5,"titleFontSize":40,"titleFont":"Liberation Serif"}},"x2":{"field":"xhi"},"y":{"field":"y","type":"quantitative","scale":{"domain":[-0.6,0.6],"nice":false,"zero":false},"axis":{"orient":"left","values":[-0.6,-0.4,-0.2,0,0.2,0.4,0.6],"format":"~g","labelExpr":"replace(datum.label,'-','−')","tickSize":-15,"labelPadding":24,"title":"⟨ S₉ ⟩","titleFontSize":50,"titleFontStyle":"italic","titleFont":"Liberation Serif","titleX":-72,"titleY":48,"titleAngle":270,"titleAlign":"center","titleBaseline":"alphabetic"}}}},
{"data":{"name":"pts"},"transform":[{"filter":"datum.panel=='S9'"}],"mark":"rule","encoding":{"x":{"field":"xc","type":"quantitative","axis":{"orient":"top","values":[400,600,800],"tickSize":-15,"labels":false,"title":null}},"y":{"field":"ylo","type":"quantitative","axis":{"orient":"right","values":[-0.6,-0.4,-0.2,0,0.2,0.4,0.6],"tickSize":-15,"labels":false,"title":null}},"y2":{"field":"yhi"}}},
{"data":{"name":"pts"},"transform":[{"filter":"datum.panel=='S9'"},{"fold":["xlo","xhi"],"as":["end","xe"]}],"mark":{"type":"tick","orient":"vertical","size":9},"encoding":{"x":{"field":"xe","type":"quantitative","axis":{"orient":"bottom","values":[250,300,350,450,500,550,650,700,750,850],"tickSize":-8,"labels":false,"title":null}},"y":{"field":"y","type":"quantitative","axis":{"orient":"left","values":[-0.55,-0.5,-0.45,-0.35,-0.3,-0.25,-0.15,-0.1,-0.05,0.05,0.1,0.15,0.25,0.3,0.35,0.45,0.5,0.55],"tickSize":-8,"labels":false,"title":null}}}},
{"data":{"name":"pts"},"transform":[{"filter":"datum.panel=='S9'"},{"fold":["ylo","yhi"],"as":["end","ye"]}],"mark":{"type":"tick","orient":"horizontal","size":9},"encoding":{"x":{"field":"xc","type":"quantitative","axis":{"orient":"top","values":[250,300,350,450,500,550,650,700,750,850],"tickSize":-8,"labels":false,"title":null}},"y":{"field":"ye","type":"quantitative","axis":{"orient":"right","values":[-0.55,-0.5,-0.45,-0.35,-0.3,-0.25,-0.15,-0.1,-0.05,0.05,0.1,0.15,0.25,0.3,0.35,0.45,0.5,0.55],"tickSize":-8,"labels":false,"title":null}}}},
{"data":{"name":"pts"},"transform":[{"filter":"datum.panel=='S9'"}],"mark":{"type":"square","size":190,"opacity":1,"color":"black"},"encoding":{"x":{"field":"xc","type":"quantitative","axis":null},"y":{"field":"y","type":"quantitative","axis":null}}},
{"data":{"name":"notes"},"transform":[{"filter":"datum.id=='prelim'"}],"mark":{"type":"text","fontSize":52,"align":"left"},"encoding":{"x":{"datum":262,"type":"quantitative","axis":null},"y":{"datum":0.424,"type":"quantitative","axis":null},"text":{"field":"note"}}},
{"data":{"name":"notes"},"transform":[{"filter":"datum.id=='lumi'"}],"mark":{"type":"text","fontSize":39,"align":"left","lineBreak":"\n","lineHeight":42},"encoding":{"x":{"datum":669,"type":"quantitative","axis":null},"y":{"datum":0.42,"type":"quantitative","axis":null},"text":{"field":"note"}}},
{"data":{"name":"notes"},"transform":[{"filter":"datum.id=='decay'"}],"mark":{"type":"text","fontSize":35,"fontStyle":"italic","align":"left"},"encoding":{"x":{"datum":551,"type":"quantitative","axis":null},"y":{"datum":-0.452,"type":"quantitative","axis":null},"text":{"field":"note"}}}
]}
],
"config": {
"font": "Liberation Serif",
"view": {"stroke": "black", "strokeWidth": 2.5},
"axis": {"domain": false, "grid": false, "zindex": 1, "labelFont": "Liberation Serif", "labelFontSize": 37, "labelColor": "black", "tickColor": "black", "tickWidth": 2, "titleFont": "Liberation Serif", "titleFontWeight": "normal", "titleColor": "black", "titleFontSize": 40},
"style": {"guide-label": {"font": "Liberation Serif"}, "guide-title": {"font": "Liberation Serif"}},
"text": {"font": "Liberation Serif", "color": "black", "baseline": "alphabetic"},
"rule": {"color": "black", "strokeWidth": 2.5},
"tick": {"color": "black", "thickness": 2.5}
}
}
